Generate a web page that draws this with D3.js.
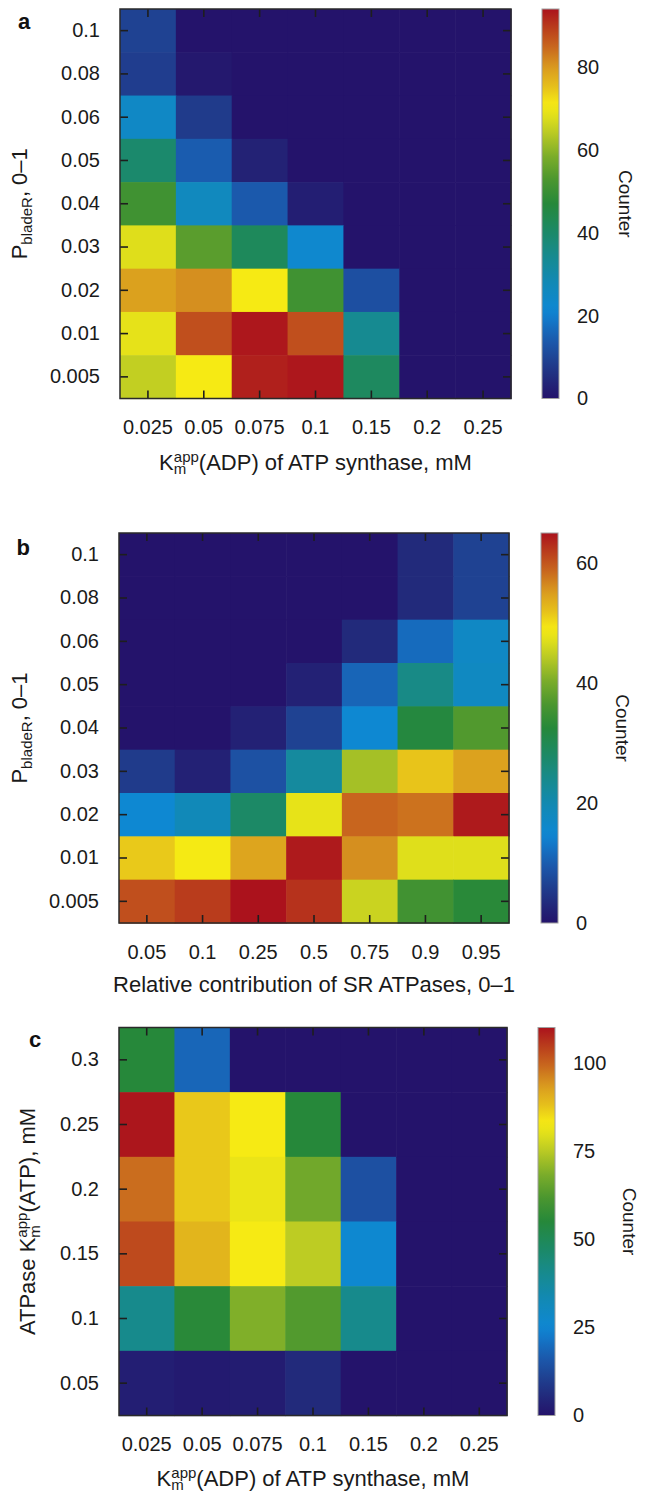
<!DOCTYPE html>
<html>
<head>
<meta charset="utf-8">
<script src="https://cdn.jsdelivr.net/npm/d3@7"></script>
<style>
body { margin: 0; background: #fff; }
svg { display: block; font-family: "Liberation Sans", Arial, sans-serif; }
</style>
</head>
<body>
<svg id="fig" width="646" height="1493"></svg>
<script>
// categories
const kmAdp = ["0.025", "0.05", "0.075", "0.1", "0.15", "0.2", "0.25"]
const pBladeR = ["0.1", "0.08", "0.06", "0.05", "0.04", "0.03", "0.02", "0.01", "0.005"]
const srContrib = ["0.05", "0.1", "0.25", "0.5", "0.75", "0.9", "0.95"]
const kmAtp = ["0.3", "0.25", "0.2", "0.15", "0.1", "0.05"]

// counters, rows top to bottom
const countsA = [
    [9.4, 0, 0, 0, 0, 0, 0],
    [8.5, 1, 0, 0, 0, 0, 0],
    [24.5, 8, 0, 0, 0, 0, 0],
    [39.5, 14.5, 3, 0, 0, 0, 0],
    [51, 26, 14, 2.3, 0, 0, 0],
    [68, 54.5, 42, 22.5, 0, 0, 0],
    [79, 81, 71, 51, 12, 0, 0],
    [69, 87.5, 93.5, 87.5, 34, 0, 0],
    [65, 71, 92.5, 93.5, 41.5, 0, 0]
]
const countsB = [
    [0, 0, 0, 0, 0, 3.3, 6.5],
    [0, 0, 0, 0, 0, 3.3, 6.5],
    [0, 0, 0, 0, 3.3, 11.7, 17],
    [0, 0, 0, 2, 11, 24.7, 17.5],
    [0, 0, 2, 6.5, 15, 32, 37],
    [5.5, 2, 8.5, 22, 43, 51.7, 54.6],
    [15, 18.9, 28, 47.8, 58.8, 57.9, 64.4],
    [51.4, 49, 54.3, 64.4, 56, 47.1, 47.1],
    [60.5, 62, 65, 62.7, 45.5, 35.4, 32.8]
]
const countsC = [
    [55, 18.7, 0, 0, 0, 0, 0],
    [109.5, 87, 83, 55, 0, 0, 0],
    [98.5, 87, 81.4, 67, 14.3, 0, 0],
    [103, 89.6, 83, 75.4, 25.8, 0, 0],
    [40.7, 55.5, 68.8, 62.7, 40.7, 0, 0],
    [2.7, 1.6, 2.2, 5.5, 0, 0, 0]
]

// colour bar ranges and ticks
const cbarMaxA = 94
const cbarMaxB = 65
const cbarMaxC = 110
const cbarTicksA = [0, 20, 40, 60, 80]
const cbarTicksB = [0, 20, 40, 60]
const cbarTicksC = [0, 25, 50, 75, 100]

// colormap (fraction of max -> colour)
const cmapT = [0, 0.05, 0.10, 0.15, 0.20, 0.23, 0.30, 0.37, 0.43, 0.50, 0.56, 0.62, 0.68, 0.72, 0.755, 0.80, 0.85, 0.90, 0.95, 1]
const cmapC = ["#24136b", "#222a7b", "#1f4292", "#1b5aad", "#1377c8", "#0e88d2", "#1289b4", "#178a8c", "#1c8966", "#26883a",
    "#4a962f", "#7aac2a", "#b8c924", "#dcdd1c", "#f6ea14", "#e6c01b", "#d99a1f", "#c9691e", "#ba3f1c", "#ab121c"]
const cmap = d3.scaleLinear().domain(cmapT).range(cmapC).clamp(true)

const svg = d3.select('#fig')
const defs = svg.append('defs')

// K^app_m style label, appended to a text node
const addKm = (text, after) => {
    text.append('tspan').text('K')
    const sub = text.append('tspan').attr('font-size', 15).attr('dy', 4.5).text('m')
    const sup = text.append('tspan').attr('font-size', 15).attr('dy', -12.5).text('app')
    sup.attr('dx', -sub.node().getComputedTextLength())
    text.append('tspan').attr('dy', 8).text(after)
}

const addP = (text) => {
    text.append('tspan').text('P')
    text.append('tspan').attr('font-size', 15).attr('dy', 5).text('bladeR')
    text.append('tspan').attr('dy', -5).text(', 0\u20131')
}

const drawPanel = (p) => {
    const g = svg.append('g')

    const x = d3.scaleBand().domain(p.xCats).range([p.left, p.right])
    const y = d3.scaleBand().domain(p.yCats).range([p.top, p.bottom])

    const cells = p.counts.flatMap((row, i) => row.map((v, j) => ({ xc: p.xCats[j], yc: p.yCats[i], v })))
    g.selectAll('rect.cell')
        .data(cells)
        .join('rect')
        .attr('class', 'cell')
        .attr('x', d => x(d.xc))
        .attr('y', d => y(d.yc))
        .attr('width', x.bandwidth() + 0.6)
        .attr('height', y.bandwidth() + 0.6)
        .attr('fill', d => cmap(d.v / p.max))

    const styleAxis = a => {
        a.select('.domain').remove()
        a.attr('font-size', 20).attr('font-family', null)
        a.selectAll('line').attr('stroke', '#1e1e1e').attr('stroke-width', 1.6)
        a.selectAll('text').attr('fill', '#1a1a1a')
    }

    g.append('g')
        .attr('transform', `translate(0,${p.bottom})`)
        .call(d3.axisBottom(x).tickSize(-8).tickPadding(21.5))
        .call(styleAxis)
    g.append('g')
        .attr('transform', `translate(0,${p.top})`)
        .call(d3.axisTop(x).tickSize(-8).tickFormat(''))
        .call(styleAxis)
    g.append('g')
        .attr('transform', `translate(${p.left},0)`)
        .call(d3.axisLeft(y).tickSize(-8).tickPadding(20))
        .call(styleAxis)
    g.append('g')
        .attr('transform', `translate(${p.right},0)`)
        .call(d3.axisRight(y).tickSize(-8).tickFormat(''))
        .call(styleAxis)

    g.append('rect')
        .attr('x', p.left).attr('y', p.top)
        .attr('width', p.right - p.left).attr('height', p.bottom - p.top)
        .attr('fill', 'none')
        .attr('stroke', '#2a2a2a')
        .attr('stroke-width', 1.5)

    // colour bar
    const grad = defs.append('linearGradient')
        .attr('id', 'grad-' + p.id)
        .attr('x1', 0).attr('y1', 1).attr('x2', 0).attr('y2', 0)
    grad.selectAll('stop')
        .data(d3.range(0, 1.0001, 0.02))
        .join('stop')
        .attr('offset', d => d)
        .attr('stop-color', d => cmap(d))

    const cy = d3.scaleLinear().domain([0, p.max]).range([p.bottom, p.top])
    g.append('rect')
        .attr('x', p.cbarX).attr('y', p.top)
        .attr('width', 17).attr('height', p.bottom - p.top)
        .attr('fill', `url(#grad-${p.id})`)
        .attr('stroke', '#a0a0a0')
        .attr('stroke-width', 1)
    g.append('g')
        .attr('transform', `translate(${p.cbarX + 17},0)`)
        .call(d3.axisRight(cy).tickValues(p.cbarTicks).tickSize(0).tickPadding(18))
        .call(styleAxis)

    g.append('text')
        .attr('transform', `translate(${p.counterX},${(p.top + p.bottom) / 2}) rotate(90)`)
        .attr('text-anchor', 'middle')
        .attr('font-size', 19)
        .attr('fill', '#1a1a1a')
        .text('Counter')

    // axis titles
    const xt = g.append('text')
        .attr('x', (p.left + p.right) / 2)
        .attr('y', p.bottom + p.xTitleDy)
        .attr('text-anchor', 'middle')
        .attr('font-size', 22)
        .attr('fill', '#1a1a1a')
    p.xTitle(xt)

    const yt = g.append('text')
        .attr('transform', `translate(${p.yTitleX},${(p.top + p.bottom) / 2}) rotate(-90)`)
        .attr('text-anchor', 'middle')
        .attr('font-size', 22)
        .attr('fill', '#1a1a1a')
    p.yTitle(yt)

    g.append('text')
        .attr('x', p.labelX).attr('y', p.labelY)
        .attr('font-size', 22)
        .attr('font-weight', 'bold')
        .attr('fill', '#111')
        .text(p.id)
}

drawPanel({
    id: 'a', xCats: kmAdp, yCats: pBladeR, counts: countsA, max: cbarMaxA, cbarTicks: cbarTicksA,
    left: 120, right: 511, top: 9, bottom: 398.5, cbarX: 542, counterX: 619,
    xTitleDy: 71, yTitleX: 27, labelX: 18, labelY: 29,
    xTitle: t => addKm(t, '(ADP) of ATP synthase, mM'),
    yTitle: addP
})

drawPanel({
    id: 'b', xCats: srContrib, yCats: pBladeR, counts: countsB, max: cbarMaxB, cbarTicks: cbarTicksB,
    left: 119, right: 509, top: 533, bottom: 923, cbarX: 541, counterX: 616,
    xTitleDy: 69, yTitleX: 27, labelX: 16.5, labelY: 555,
    xTitle: t => t.text('Relative contribution of SR ATPases, 0\u20131'),
    yTitle: addP
})

drawPanel({
    id: 'c', xCats: kmAdp, yCats: kmAtp, counts: countsC, max: cbarMaxC, cbarTicks: cbarTicksC,
    left: 119, right: 507, top: 1027.5, bottom: 1415.5, cbarX: 538, counterX: 623,
    xTitleDy: 70, yTitleX: 35, labelX: 29, labelY: 1046.5,
    xTitle: t => addKm(t, '(ADP) of ATP synthase, mM'),
    yTitle: t => {
        t.append('tspan').text('ATPase ')
        addKm(t, '(ATP), mM')
    }
})
</script>
</body>
</html>
